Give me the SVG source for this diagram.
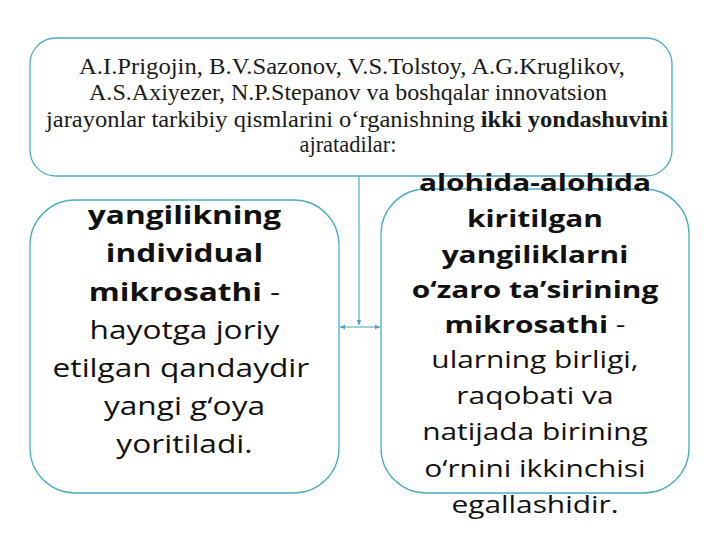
<svg xmlns="http://www.w3.org/2000/svg" width="720" height="540" viewBox="0 0 720 540">
<style>
.box{fill:#ffffff;stroke:#4bacc6;stroke-width:1.3}
.con{fill:none;stroke:#4a9ec0;stroke-width:1.1}
.top{font-family:"Liberation Serif","Times New Roman",serif;font-size:24px;fill:#1a1a1a;text-anchor:middle}
.side{font-family:"Open Sans","Noto Sans",sans-serif;fill:#111111;text-anchor:middle}
.l{font-size:25px}
.r{font-size:23.5px}
.b{font-weight:bold}
</style>
<defs>
<marker id="ah" viewBox="0 0 10 10" refX="9" refY="5" markerWidth="5" markerHeight="5" orient="auto-start-reverse">
<path d="M0,1 L9,5 L0,9 z" fill="#4a9ec0"/>
</marker>
</defs>
<rect width="720" height="540" fill="#ffffff"/>
<g id="connectors">
<line class="con" x1="359" y1="176" x2="359" y2="325" marker-end="url(#ah)"/>
<line class="con" x1="340" y1="327" x2="380" y2="327" marker-start="url(#ah)" marker-end="url(#ah)"/>
</g>
<g id="node-top">
<rect class="box" x="30" y="38" width="642" height="138" rx="26" ry="26"/>
<text class="top" x="352" y="74" textLength="546" lengthAdjust="spacingAndGlyphs">A.I.Prigojin, B.V.Sazonov, V.S.Tolstoy, A.G.Kruglikov,</text>
<text class="top" x="348" y="100" textLength="518" lengthAdjust="spacingAndGlyphs">A.S.Axiyezer, N.P.Stepanov va boshqalar innovatsion</text>
<text class="top" x="357" y="127" textLength="622" lengthAdjust="spacingAndGlyphs">jarayonlar tarkibiy qismlarini o‘rganishning <tspan font-weight="bold">ikki yondashuvini</tspan></text>
<text class="top" x="348" y="152" textLength="97" lengthAdjust="spacingAndGlyphs">ajratadilar:</text>
</g>
<g id="node-left">
<rect class="box" x="30" y="200" width="309" height="293" rx="45" ry="45"/>
<g transform="matrix(1.265,0,0,1,-48.9,0)">
<text class="side l b" x="184.5" y="224">yangilikning</text>
<text class="side l b" x="184.5" y="262">individual</text>
<text class="side l" x="184.5" y="301"><tspan font-weight="bold">mikrosathi</tspan> -</text>
<text class="side l" x="184.5" y="339">hayotga joriy</text>
<text class="side l" x="181.7" y="377">etilgan qandaydir</text>
<text class="side l" x="184.5" y="415">yangi g‘oya</text>
<text class="side l" x="184.5" y="453">yoritiladi.</text>
</g>
</g>
<g id="node-right">
<rect class="box" x="381" y="189" width="308" height="304" rx="45" ry="45"/>
<g transform="matrix(1.27,0,0,1,-144.45,0)">
<text class="side r b" x="535" y="191">alohida-alohida</text>
<text class="side r b" x="535" y="227">kiritilgan</text>
<text class="side r b" x="535" y="263">yangiliklarni</text>
<text class="side r b" x="535" y="298">o‘zaro ta’sirining</text>
<text class="side r" x="535" y="333"><tspan font-weight="bold">mikrosathi</tspan> -</text>
<text class="side r" x="535" y="368">ularning birligi,</text>
<text class="side r" x="535" y="404">raqobati va</text>
<text class="side r" x="535" y="440">natijada birining</text>
<text class="side r" x="535" y="477">o‘rnini ikkinchisi</text>
<text class="side r" x="535" y="513">egallashidir.</text>
</g>
</g>
</svg>
